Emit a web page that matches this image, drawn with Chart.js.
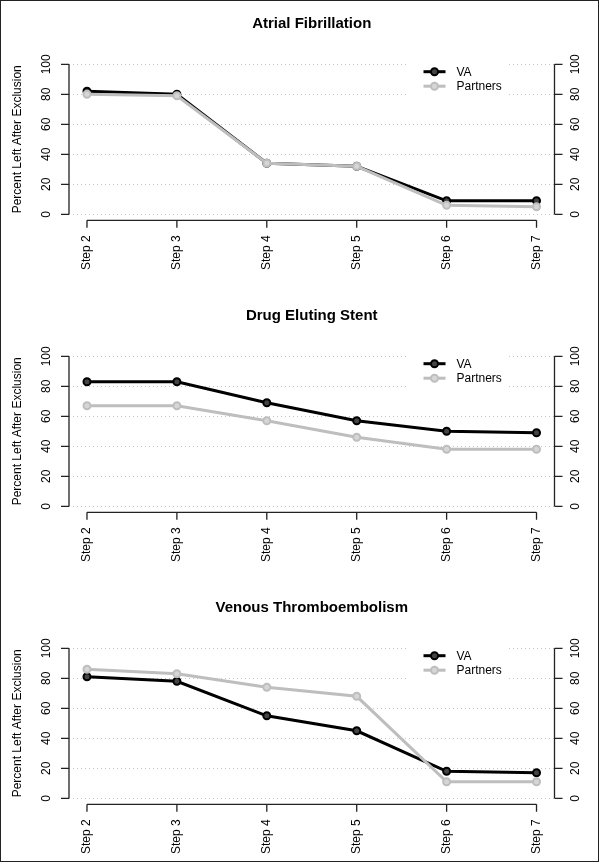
<!DOCTYPE html>
<html>
<head>
<meta charset="utf-8">
<script src="https://cdn.jsdelivr.net/npm/chart.js@4"></script>
<style>
  body { margin: 0; background: #fff; overflow: hidden; }
  #quadro { position: relative; width: 599px; height: 862px; overflow: hidden; background: #fff; }
  #quadro canvas { position: absolute; left: 0; }
  #moldura { position: absolute; inset: 0; border: 1px solid #222; pointer-events: none; }
</style>
</head>
<body>
<div id="quadro">
  <canvas id="grafico1" width="599" height="292" style="top:0px"></canvas>
  <canvas id="grafico2" width="599" height="292" style="top:292px"></canvas>
  <canvas id="grafico3" width="599" height="292" style="top:584px"></canvas>
  <div id="moldura"></div>
</div>
<script>
// dados
const steps = ['Step 2', 'Step 3', 'Step 4', 'Step 5', 'Step 6', 'Step 7'];
const yTicks = [0, 20, 40, 60, 80, 100];
const seriesNames = ['VA', 'Partners'];

const afVA = [82, 80, 34, 32, 9, 9];
const afPartners = [80, 79, 34, 32, 6, 5];
const desVA = [83, 83, 69, 57, 50, 49];
const desPartners = [67, 67, 57, 46, 38, 38];
const vteVA = [81, 78, 55, 45, 18, 17];
const vtePartners = [86, 83, 74, 68, 11, 11];

const FONT = '"Liberation Sans", Arial, Helvetica, sans-serif';
const COR_VA = '#000000';
const COR_PARTNERS = '#bebebe';

// eixos no estilo do R (linha só entre o primeiro e o último tick)
const eixosR = {
  id: 'eixosR',
  beforeDatasetsDraw(chart) {
    const { ctx, chartArea, scales } = chart;
    ctx.save();
    ctx.strokeStyle = '#c4c4c4';
    ctx.lineWidth = 1;
    ctx.setLineDash([1, 3]);
    yTicks.forEach(t => {
      const y = Math.round(scales.y.getPixelForValue(t)) + 0.5;
      ctx.beginPath();
      ctx.moveTo(chartArea.left, y);
      ctx.lineTo(chartArea.right, y);
      ctx.stroke();
    });
    ctx.restore();
  },
  afterDatasetsDraw(chart, args, opts) {
    const { ctx, chartArea, scales } = chart;
    const x = scales.x, y = scales.y;
    ctx.save();

    // legenda com fundo branco
    const lx = chartArea.right - 148;
    ctx.fillStyle = '#fff';
    ctx.fillRect(lx, chartArea.top - 2, 102, 44);
    [COR_VA, COR_PARTNERS].forEach((cor, i) => {
      const ly = 71.7 + i * 14.5;
      ctx.strokeStyle = cor;
      ctx.lineWidth = 3;
      ctx.beginPath();
      ctx.moveTo(lx + 17, ly);
      ctx.lineTo(lx + 39, ly);
      ctx.stroke();
      ctx.beginPath();
      ctx.arc(lx + 28, ly, 3.5, 0, Math.PI * 2);
      ctx.fillStyle = i === 0 ? '#444' : '#d6d6d6';
      ctx.fill();
      ctx.lineWidth = 2;
      ctx.stroke();
      ctx.fillStyle = '#000';
      ctx.font = '12px ' + FONT;
      ctx.textAlign = 'left';
      ctx.textBaseline = 'middle';
      ctx.fillText(seriesNames[i], lx + 50, ly + 0.5);
    });

    ctx.strokeStyle = '#222';
    ctx.fillStyle = '#000';
    ctx.lineWidth = 1.3;
    ctx.font = '12px ' + FONT;
    ctx.textBaseline = 'middle';
    ctx.textAlign = 'center';

    const y0 = y.getPixelForValue(0), y100 = y.getPixelForValue(100);
    // eixo esquerdo e direito
    [[chartArea.left, -8, 47], [chartArea.right, 8, 576]].forEach(([ex, dir, tx]) => {
      ctx.beginPath();
      ctx.moveTo(ex, y0);
      ctx.lineTo(ex, y100);
      yTicks.forEach(t => {
        const py = y.getPixelForValue(t);
        ctx.moveTo(ex, py);
        ctx.lineTo(ex + dir, py);
      });
      ctx.stroke();
      yTicks.forEach(t => {
        const py = y.getPixelForValue(t);
        ctx.save();
        ctx.translate(tx, py);
        ctx.rotate(-Math.PI / 2);
        ctx.fillText(String(t), 0, 0);
        ctx.restore();
      });
    });

    // eixo x
    const by = chartArea.bottom;
    ctx.beginPath();
    ctx.moveTo(x.getPixelForValue(0), by);
    ctx.lineTo(x.getPixelForValue(steps.length - 1), by);
    steps.forEach((s, i) => {
      const px = x.getPixelForValue(i);
      ctx.moveTo(px, by);
      ctx.lineTo(px, by + 7.5);
    });
    ctx.stroke();
    ctx.textAlign = 'right';
    steps.forEach((s, i) => {
      ctx.save();
      ctx.translate(x.getPixelForValue(i), by + 15);
      ctx.rotate(-Math.PI / 2);
      ctx.fillText(s, 0, 0);
      ctx.restore();
    });

    // título do eixo y
    ctx.save();
    ctx.translate(18, (y0 + y100) / 2);
    ctx.rotate(-Math.PI / 2);
    ctx.textAlign = 'center';
    ctx.fillText('Percent Left After Exclusion', 0, 0);
    ctx.restore();

    // título do gráfico
    ctx.font = 'bold 15px ' + FONT;
    ctx.textAlign = 'center';
    ctx.fillText(opts.titulo, (chartArea.left + chartArea.right) / 2, 23.5);

    ctx.restore();
  }
};

function pontos(valores) {
  return valores.map((v, i) => ({ x: i, y: v }));
}

function criarGrafico(seletor, titulo, va, partners) {
  new Chart(document.querySelector(seletor), {
    type: 'line',
    data: {
      datasets: [
        {
          label: seriesNames[0],
          data: pontos(va),
          borderColor: COR_VA,
          borderWidth: 3,
          pointRadius: 3.5,
          pointBorderWidth: 2,
          pointBackgroundColor: '#444',
          pointBorderColor: COR_VA,
          order: 2
        },
        {
          label: seriesNames[1],
          data: pontos(partners),
          borderColor: COR_PARTNERS,
          borderWidth: 3,
          pointRadius: 3.5,
          pointBorderWidth: 2,
          pointBackgroundColor: '#d6d6d6',
          pointBorderColor: COR_PARTNERS,
          order: 1
        }
      ]
    },
    options: {
      responsive: false,
      animation: false,
      layout: { padding: { left: 69, right: 44.5, top: 58.3, bottom: 71.7 } },
      scales: {
        x: { type: 'linear', min: -0.2, max: steps.length - 0.8, display: false },
        y: { type: 'linear', min: -4, max: 104, display: false }
      },
      plugins: {
        legend: { display: false },
        tooltip: { enabled: false },
        eixosR: { titulo: titulo }
      }
    },
    plugins: [eixosR]
  });
}

criarGrafico('#grafico1', 'Atrial Fibrillation', afVA, afPartners);
criarGrafico('#grafico2', 'Drug Eluting Stent', desVA, desPartners);
criarGrafico('#grafico3', 'Venous Thromboembolism', vteVA, vtePartners);
</script>
</body>
</html>
